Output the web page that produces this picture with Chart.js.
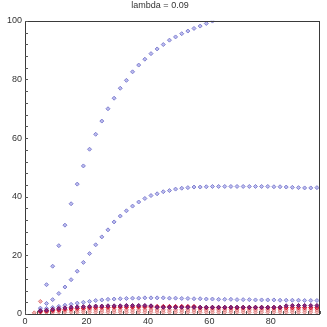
<!DOCTYPE html>
<html>
<head>
<meta charset="utf-8">
<script src="https://cdn.jsdelivr.net/npm/chart.js@4/dist/chart.umd.min.js"></script>
<style>
  html, body { margin: 0; padding: 0; background: #fff; }
  #wrap { width: 327px; height: 327px; }
</style>
</head>
<body>
<div id="wrap"><canvas id="lambda"></canvas></div>
<script>
const titleText = 'lambda = 0.09';

const xs = [3, 5, 7, 9, 11, 13, 15, 17, 19, 21, 23, 25, 27, 29, 31, 33, 35, 37, 39, 41, 43, 45, 47,
  49, 51, 53, 55, 57, 59, 61, 63, 65, 67, 69, 71, 73, 75, 77, 79, 81, 83, 85, 87, 89, 91, 93, 95];

const blueA = [null, null, 10.0, 16.3, 23.3, 30.3, 37.6, 44.3, 50.5, 56.2, 61.3, 65.8, 70.0, 73.6,
  77.0, 79.7, 82.6, 84.9, 86.9, 88.8, 90.4, 91.9, 93.4, 94.5, 95.6, 96.5, 97.4, 98.2, 99.1, 99.9];

const blueB = [null, 2.0, 3.6, 4.9, 7.0, 9.2, 11.7, 14.6, 17.6, 20.6, 23.6, 26.3, 28.7, 31.4, 33.4,
  35.2, 36.8, 38.2, 39.4, 40.4, 41.0, 41.7, 42.1, 42.6, 42.9, 43.1, 43.3, 43.3, 43.4, 43.5, 43.5,
  43.5, 43.5, 43.5, 43.5, 43.5, 43.5, 43.5, 43.5, 43.4, 43.4, 43.3, 43.2, 43.1, 43.0, 43.0, 43.1];

const blueC = [null, 1.3, 1.9, 2.2, 2.6, 3.0, 3.3, 3.7, 4.0, 4.3, 4.6, 4.8, 5.0, 5.1, 5.2, 5.3, 5.4,
  5.4, 5.5, 5.5, 5.5, 5.5, 5.4, 5.4, 5.3, 5.3, 5.2, 5.2, 5.1, 5.1, 5.0, 5.0, 5.0, 4.9, 4.9, 4.9,
  4.8, 4.8, 4.8, 4.8, 4.7, 4.7, 4.7, 4.7, 4.6, 4.6, 4.6];

const purple = [null, 1.1, 1.3, 1.6, 1.9, 2.1, 2.3, 2.4, 2.5, 2.6, 2.7, 2.7, 2.8, 2.8, 2.8, 2.9,
  2.9, 2.9, 2.9, 2.8, 2.3, 2.3, 2.3, 2.3, 2.3, 2.3, 2.3, 2.3, 2.3, 2.3, 2.3, 2.3, 2.3, 2.3, 2.3,
  2.3, 2.3, 2.3, 2.3, 2.3, 2.3, 2.8, 2.9, 2.9, 2.9, 2.9, 2.9];

const red = [null, 0.8, 1.0, 1.2, 1.4, 1.6, 1.7, 1.9, 2.0, 2.1, 2.2, 2.3, 2.3, 2.4, 2.4, 2.4, 2.4,
  2.5, 2.5, 2.6, 2.6, 2.6, 2.6, 2.6, 2.6, 2.6, 2.6, 2.1, 2.1, 2.1, 2.1, 2.1, 2.1, 2.1, 2.1, 2.1,
  2.1, 2.1, 2.1, 2.1, 2.1, 2.1, 2.1, 2.1, 2.1, 2.1, 2.1];

const salmonA = [null, 0.9, 1.1, 1.3, 1.5, 1.7, 1.8, 1.9, 2.0, 2.1, 2.1, 2.2, 2.2, 2.2, 2.2, 2.2,
  2.2, 2.2, 2.2, 2.2, 2.2, 2.2, 2.2, 2.2, 2.2, 2.2, 2.2, 2.3, 2.3, 2.3, 2.3, 2.3, 2.3, 2.3, 2.3,
  2.3, 2.3, 2.3, 2.3, 2.3, 2.3, 2.3, 2.3, 2.3, 2.3, 2.3, 2.3];

const salmonB = [0.4, 4.3, 0.9, 1.0, 1.1, 1.2, 1.3, 1.3, 1.3, 1.4, 1.4, 1.4, 1.4, 1.4, 1.4, 1.4,
  1.4, 1.4, 1.4, 1.4, 1.4, 1.4, 1.4, 1.4, 1.4, 1.4, 1.4, 1.4, 1.4, 1.4, 1.4, 1.4, 1.4, 1.4, 1.4,
  1.4, 1.4, 1.4, 1.4, 1.4, 1.4, 1.4, 1.4, 1.4, 1.4, 1.4, 1.4];

const salmonC = [null, 0.5, 0.5, 0.5, 0.6, 0.6, 0.6, 0.6, 0.6, 0.6, 0.6, 0.6, 0.6, 0.6, 0.6, 0.6,
  0.6, 0.6, 0.6, 0.6, 0.6, 0.6, 0.6, 0.6, 0.6, 0.6, 0.6, 0.6, 0.6, 0.6, 0.6, 0.6, 0.6, 0.6, 0.6,
  0.6, 0.6, 0.6, 0.6, 0.6, 0.6, 0.6, 0.6, 0.6, 0.6, 0.6, 0.6];

const xTickLabels = [0, 20, 40, 60, 80];
const yTickLabels = [0, 20, 40, 60, 80, 100];

const toPoints = vals => xs.map((x, i) => ({ x: x, y: vals[i] })).filter(p => p.y !== null && p.y !== undefined);

const series = (vals, border, fill) => ({
  data: toPoints(vals),
  showLine: false,
  pointStyle: 'rectRot',
  pointRadius: 2,
  pointBorderWidth: 1,
  borderColor: border,
  backgroundColor: fill,
  pointHoverRadius: 2
});

const frame = {
  id: 'frame',
  afterDraw(chart) {
    const { ctx, chartArea: a, scales } = chart;
    ctx.save();
    ctx.strokeStyle = '#3a3a3a';
    ctx.lineWidth = 1;
    ctx.strokeRect(Math.round(a.left) + 0.5, Math.round(a.top) + 0.5,
      Math.round(a.right - a.left) - 1, Math.round(a.bottom - a.top));
    ctx.strokeStyle = '#555';
    scales.y.ticks.forEach(t => {
      const py = Math.round(scales.y.getPixelForValue(t.value)) + 0.5;
      ctx.beginPath();
      ctx.moveTo(a.left, py);
      ctx.lineTo(a.left + 3, py);
      ctx.stroke();
    });
    scales.x.ticks.forEach(t => {
      const px = Math.round(scales.x.getPixelForValue(t.value)) + 0.5;
      ctx.beginPath();
      ctx.moveTo(px, a.bottom);
      ctx.lineTo(px, a.bottom - 3);
      ctx.stroke();
    });
    ctx.restore();
  }
};

const font = { family: "'Liberation Sans', Arial, sans-serif", size: 9 };

new Chart(document.getElementById('lambda').getContext('2d'), {
  type: 'scatter',
  data: {
    datasets: [
      series(purple, '#6a1060', '#8a2a80'),
      series(red, '#d01030', '#e85060'),
      series(salmonA, '#d87070', '#eaa0a0'),
      series(salmonB, '#e08080', '#f0b0b0'),
      series(salmonC, '#e09090', '#f2b8b8'),
      series(blueC, '#8080d0', '#bcbcee'),
      series(blueB, '#8080d0', '#bcbcee'),
      series(blueA, '#8080d0', '#bcbcee')
    ]
  },
  options: {
    responsive: true,
    maintainAspectRatio: false,
    animation: false,
    layout: { padding: { left: 0, right: 7, top: 0, bottom: 0 } },
    scales: {
      x: {
        type: 'linear',
        min: 0,
        max: 96,
        grid: { display: false, drawTicks: false },
        border: { display: false },
        afterFit: axis => { axis.height = 13; },
        ticks: {
          stepSize: 4,
          autoSkip: false,
          maxRotation: 0,
          padding: 2,
          color: '#333',
          font: font,
          callback: v => xTickLabels.includes(v) ? String(v) : ''
        }
      },
      y: {
        min: 0,
        max: 100,
        grid: { display: false, drawTicks: false },
        border: { display: false },
        afterFit: axis => { axis.width = 25; },
        ticks: {
          stepSize: 4,
          autoSkip: false,
          padding: 3,
          color: '#333',
          font: font,
          callback: v => yTickLabels.includes(v) ? String(v) : ''
        }
      }
    },
    plugins: {
      legend: { display: false },
      tooltip: { enabled: false },
      title: {
        display: true,
        text: titleText,
        color: '#333',
        font: { family: "'Liberation Sans', Arial, sans-serif", size: 9, weight: 'normal' },
        padding: { top: 0, bottom: 10 }
      }
    }
  },
  plugins: [frame]
});
</script>
</body>
</html>
